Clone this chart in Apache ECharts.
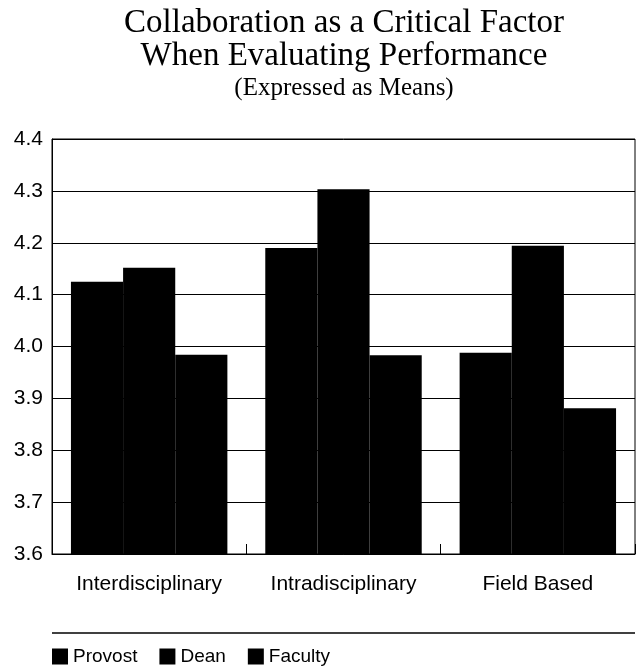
<!DOCTYPE html>
<html><head><meta charset="utf-8">
<script src="https://cdn.jsdelivr.net/npm/echarts@6/dist/echarts.min.js"></script>
<style>html,body{margin:0;padding:0;background:#fff}#c{width:636px;height:667px}</style>
</head><body><div id="c"></div>
<script>
const categories = ['Interdisciplinary', 'Intradisciplinary', 'Field Based'];
const provost = [4.125, 4.19, 3.988];
const dean = [4.152, 4.303, 4.194];
const faculty = [3.984, 3.983, 3.881];
const seriesNames = ['Provost', 'Dean', 'Faculty'];

const chart = echarts.init(document.getElementById('c'));
const sans = 'Liberation Sans';
const mk = (name, data) => ({
  name, type: 'bar', data, barGap: 0, barCategoryGap: '19.5%',
  itemStyle: { color: '#000' }
});
chart.setOption({
  animation: false,
  backgroundColor: '#fff',
  title: {
    text: 'Collaboration as a Critical Factor\nWhen Evaluating Performance',
    subtext: '(Expressed as Means)',
    left: 344, top: 7, textAlign: 'center', itemGap: 1, padding: 0,
    textStyle: { fontFamily: 'Liberation Serif', fontSize: 33, fontWeight: 'normal', color: '#000', lineHeight: 33 },
    subtextStyle: { fontFamily: 'Liberation Serif', fontSize: 25, color: '#000', lineHeight: 28 }
  },
  legend: {
    data: seriesNames, left: 52, top: 647, itemWidth: 16, itemHeight: 16, itemGap: 22,
    icon: 'rect', padding: 0,
    textStyle: { fontFamily: sans, fontSize: 19, color: '#000' }
  },
  grid: { left: 52, right: 1, top: 139, bottom: 113, show: true, borderColor: '#000', borderWidth: 1, backgroundColor: 'transparent' },
  xAxis: {
    type: 'category', data: categories,
    axisLine: { lineStyle: { color: '#000', width: 1 } },
    axisTick: { show: true, inside: true, length: 10, lineStyle: { color: '#000' } },
    axisLabel: { fontFamily: sans, fontSize: 21, color: '#000', margin: 20 }
  },
  yAxis: {
    type: 'value', min: 3.6, max: 4.4, interval: 0.1,
    axisLine: { show: true, lineStyle: { color: '#000' } },
    axisTick: { show: false },
    splitLine: { lineStyle: { color: '#000', width: 1 } },
    axisLabel: { fontFamily: sans, fontSize: 21, color: '#000', margin: 9, formatter: v => v.toFixed(1) }
  },
  graphic: [{ type: 'line', shape: { x1: 52, y1: 633, x2: 635, y2: 633 }, style: { stroke: '#000', lineWidth: 1.5 } }],
  series: [mk('Provost', provost), mk('Dean', dean), mk('Faculty', faculty)]
});
</script></body></html>
